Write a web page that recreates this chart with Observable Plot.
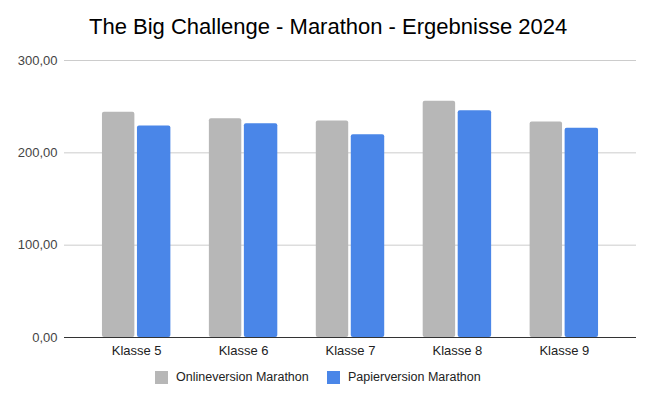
<!DOCTYPE html>
<html>
<head>
<meta charset="utf-8">
<script src="https://cdn.jsdelivr.net/npm/d3@7"></script>
<script src="https://cdn.jsdelivr.net/npm/@observablehq/plot@0.6"></script>
<style>
  body { margin: 0; background: #fff; }
  #wrap { position: relative; width: 654px; height: 399px; font-family: "Liberation Sans", Arial, sans-serif; }
  #title { position: absolute; left: 89px; top: 14px; font-size: 22px; color: #000; white-space: nowrap; }
  .leg { position: absolute; top: 371px; font-size: 12.5px; color: #222; white-space: nowrap; line-height: 13px; }
  .sw { display: inline-block; width: 13px; height: 13px; vertical-align: top; margin-right: 8px; }
  #chart { position: absolute; left: 0; top: 0; }
</style>
</head>
<body>
<div id="wrap">
  <div id="chart"></div>
  <div id="title">The Big Challenge - Marathon - Ergebnisse 2024</div>
  <div class="leg" style="left:155px"><span class="sw" style="background:#b7b7b7"></span>Onlineversion Marathon</div>
  <div class="leg" style="left:327px"><span class="sw" style="background:#4a86e8"></span>Papierversion Marathon</div>
</div>
<script>
const categories = ["Klasse 5", "Klasse 6", "Klasse 7", "Klasse 8", "Klasse 9"];
const onlineValues = [244, 237, 234.5, 256, 233.5];
const papierValues = [229, 231.5, 219.5, 245.5, 226.5];
const yTicks = [0, 100, 200, 300];
const seriesNames = ["Onlineversion Marathon", "Papierversion Marathon"];

const online = categories.map((c, i) => ({klasse: c, value: onlineValues[i], series: seriesNames[0]}));
const papier = categories.map((c, i) => ({klasse: c, value: papierValues[i], series: seriesNames[1]}));

const fmt = d => d.toFixed(2).replace(".", ",");

const chart = Plot.plot({
  width: 654,
  height: 399,
  marginTop: 60,
  marginBottom: 62,
  marginLeft: 64,
  marginRight: 18,
  style: {fontFamily: "'Liberation Sans', Arial, sans-serif", fontSize: "13px", background: "transparent"},
  x: {domain: categories, paddingInner: 0.36, paddingOuter: 0.355, round: false, label: null},
  y: {domain: [0, 300], label: null},
  marks: [
    Plot.ruleY(yTicks.filter(d => d > 0), {stroke: "#cccccc", strokeWidth: 1}),
    Plot.barY(online, {x: "klasse", y: "value", fill: "#b7b7b7", insetRight: 36, rx: 2}),
    Plot.barY(papier, {x: "klasse", y: "value", fill: "#4a86e8", insetLeft: 35, rx: 2}),
    Plot.ruleY([0], {stroke: "#333333", strokeWidth: 1}),
    Plot.axisY({ticks: yTicks, tickFormat: fmt, tickSize: 0, tickPadding: 7, fill: "#444", fontSize: 13, label: null}),
    Plot.axisX({tickSize: 0, tickPadding: 8, fill: "#222", fontSize: 13, label: null})
  ]
});
document.getElementById("chart").appendChild(chart);
</script>
</body>
</html>
